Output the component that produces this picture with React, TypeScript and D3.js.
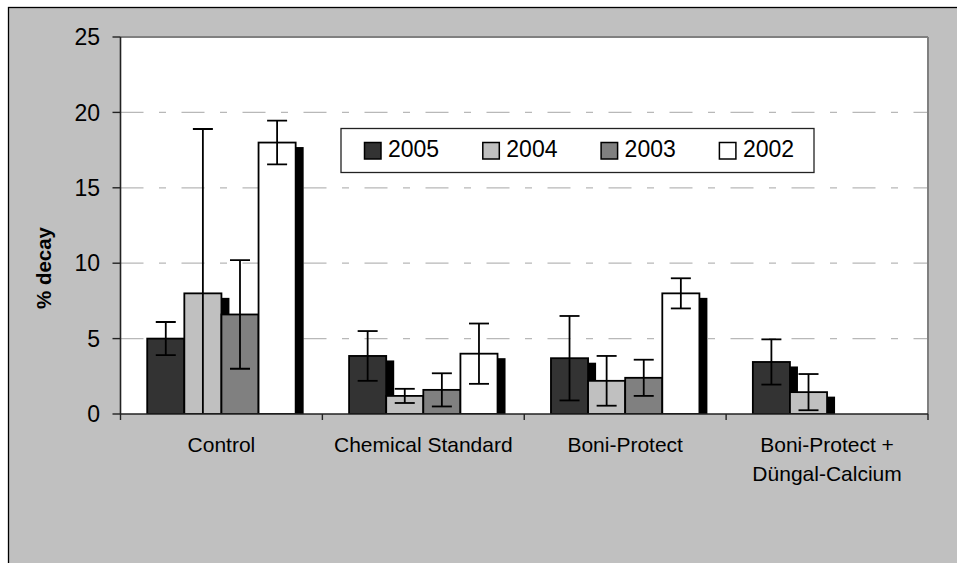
import React from "react";
import * as d3 from "d3";

const categories = ["Control", "Chemical Standard", "Boni-Protect", "Boni-Protect +\nDüngal-Calcium"];
const seriesNames = ["2005", "2004", "2003", "2002"];
const values2005 = [5.0, 3.85, 3.7, 3.45];
const values2004 = [8.0, 1.2, 2.2, 1.45];
const values2003 = [6.6, 1.6, 2.4, null];
const values2002 = [18.0, 4.0, 8.0, null];
const err2005 = [1.1, 1.65, 2.8, 1.5];
const err2004 = [10.9, 0.47, 1.65, 1.2];
const err2003 = [3.6, 1.1, 1.2, null];
const err2002 = [1.45, 2.0, 1.0, null];
const yTicks = [0, 5, 10, 15, 20, 25];
const seriesColors = ["#333333", "#c0c0c0", "#808080", "#ffffff"];

const allValues = [values2005, values2004, values2003, values2002];
const allErrors = [err2005, err2004, err2003, err2002];

const W = 957;
const H = 563;
const plotL = 120.5;
const plotR = 928;
const plotT = 37;
const plotB = 414;
const FONT = "'Liberation Sans', Arial, sans-serif";

export default function App() {
  const x0 = d3.scaleBand<string>().domain(categories).range([plotL, plotR]).paddingInner(0).paddingOuter(0);
  const x1 = d3
    .scaleBand<string>()
    .domain(seriesNames)
    .range([0, x0.bandwidth()])
    .paddingInner(0)
    .paddingOuter(0.72);
  const y = d3.scaleLinear().domain([0, 25]).range([plotB, plotT]);

  type Bar = { cat: string; s: string; si: number; v: number; e: number | null };
  const bars: Bar[] = [];
  categories.forEach((c, ci) => {
    seriesNames.forEach((s, si) => {
      const v = allValues[si][ci];
      if (v != null) bars.push({ cat: c, s, si, v, e: allErrors[si][ci] });
    });
  });

  const bw = x1.bandwidth();
  const sdx = 8;
  const sdy = 4.5;
  const capHalf = 10;

  const legendX = 341;
  const legendY = 128.5;
  const legendW = 473;
  const legendH = 44;
  const legendStep = 118.3;

  return (
    <svg
      width={W}
      height={H}
      style={{ position: "absolute", left: 0, top: 0, display: "block" }}
      fontFamily={FONT}
    >
      <rect x={0} y={0} width={W} height={H} fill="#ffffff" />
      <rect x={8.5} y={7.5} width={W + 20} height={H + 20} fill="#c0c0c0" stroke="#000" strokeWidth={1.3} />
      <defs>
        <clipPath id="plotClip">
          <rect x={plotL} y={plotT} width={plotR - plotL} height={plotB - plotT} />
        </clipPath>
      </defs>
      <rect x={plotL} y={plotT} width={plotR - plotL} height={plotB - plotT} fill="#ffffff" />
      {/* gridlines */}
      {yTicks
        .filter((t) => t > 0 && t < 25)
        .map((t) => (
          <line
            key={"g" + t}
            x1={plotL}
            x2={plotR}
            y1={y(t)}
            y2={y(t)}
            stroke="#b8b8b8"
            strokeWidth={1.2}
            strokeDasharray="23 15.5 7 15.5"
          />
        ))}
      <g clipPath="url(#plotClip)">
        {/* shadows */}
        {bars.map((b) => {
          const bx = (x0(b.cat) as number) + (x1(b.s) as number);
          return (
            <rect
              key={"sh" + b.cat + b.s}
              x={bx + sdx}
              y={y(b.v) + sdy}
              width={bw}
              height={Math.max(0, plotB - y(b.v))}
              fill="#000"
            />
          );
        })}
        {/* bars */}
        {bars.map((b) => {
          const bx = (x0(b.cat) as number) + (x1(b.s) as number);
          return (
            <rect
              key={"b" + b.cat + b.s}
              x={bx}
              y={y(b.v)}
              width={bw}
              height={plotB - y(b.v)}
              fill={seriesColors[b.si]}
              stroke="#000"
              strokeWidth={1.8}
            />
          );
        })}
        {/* error bars */}
        {bars.map((b) => {
          if (b.e == null) return null;
          const cx = (x0(b.cat) as number) + (x1(b.s) as number) + bw / 2;
          const hi = b.v + b.e;
          const lo = b.v - b.e;
          return (
            <g key={"e" + b.cat + b.s} stroke="#000" strokeWidth={1.8}>
              <line x1={cx} x2={cx} y1={y(hi)} y2={y(Math.max(0, lo))} />
              <line x1={cx - capHalf} x2={cx + capHalf} y1={y(hi)} y2={y(hi)} />
              {lo >= 0 && <line x1={cx - capHalf} x2={cx + capHalf} y1={y(lo)} y2={y(lo)} />}
            </g>
          );
        })}
      </g>
      {/* plot border top/right */}
      <line x1={plotL} x2={plotR} y1={plotT} y2={plotT} stroke="#808080" strokeWidth={2} />
      <line x1={plotR} x2={plotR} y1={plotT} y2={plotB} stroke="#808080" strokeWidth={2} />
      {/* y axis */}
      <line x1={plotL} x2={plotL} y1={plotT} y2={plotB} stroke="#222" strokeWidth={1.6} />
      {yTicks.map((t) => (
        <g key={"yt" + t}>
          <line x1={plotL - 8} x2={plotL} y1={y(t)} y2={y(t)} stroke="#222" strokeWidth={1.4} />
          <text x={100} y={y(t)} dy="0.36em" textAnchor="end" fontSize={23} fill="#000">
            {t}
          </text>
        </g>
      ))}
      {/* x axis */}
      <line x1={plotL} x2={plotR} y1={plotB} y2={plotB} stroke="#222" strokeWidth={1.6} />
      {categories.map((c, i) => (
        <line
          key={"xt" + i}
          x1={x0(c) as number}
          x2={x0(c) as number}
          y1={plotB}
          y2={plotB + 6}
          stroke="#222"
          strokeWidth={1.4}
        />
      ))}
      <line x1={plotR} x2={plotR} y1={plotB} y2={plotB + 6} stroke="#222" strokeWidth={1.4} />
      {categories.map((c) => {
        const lines = c.split("\n");
        const cx = (x0(c) as number) + x0.bandwidth() / 2;
        return (
          <text key={"cl" + c} x={cx} y={452} textAnchor="middle" fontSize={21} fill="#000">
            {lines.map((ln, li) => (
              <tspan key={li} x={cx} dy={li === 0 ? 0 : 28.5}>
                {ln}
              </tspan>
            ))}
          </text>
        );
      })}
      {/* y title */}
      <text
        transform={`translate(51,268) rotate(-90)`}
        textAnchor="middle"
        fontSize={20.5}
        fontWeight="bold"
        fill="#000"
      >
        % decay
      </text>
      {/* legend */}
      <rect x={legendX} y={legendY} width={legendW} height={legendH} fill="#fff" stroke="#222" strokeWidth={1.3} />
      {seriesNames.map((s, i) => {
        const sx = 364.5 + i * legendStep;
        return (
          <g key={"lg" + s}>
            <rect x={sx} y={142.5} width={16.5} height={16.5} fill={seriesColors[i]} stroke="#000" strokeWidth={1.5} />
            <text x={sx + 23.5} y={157} fontSize={23} fill="#000">
              {s}
            </text>
          </g>
        );
      })}
    </svg>
  );
}
